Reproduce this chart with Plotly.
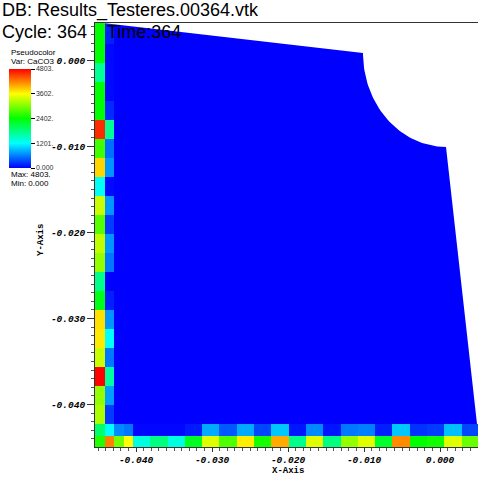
import numpy as np
import plotly.graph_objects as go

# ---------------- data ----------------
# colour scale (VisIt "hot")
cb_tick_vals = [0.0, 1201.0, 2402.0, 3602.0, 4803.0]
cb_tick_text = ["0.000", "1201.", "2402.", "3602.", "4803."]
z_min, z_max = 0.0, 4803.0

# CaCO3 in the left-most (narrow) column, rows top -> bottom (23 rows)
col1_vals = [2400, 2400, 1700, 2400, 2400, 4600, 2700, 3800, 1250, 3350, 2800,
             3300, 3100, 1750, 2300, 3750, 3700, 3350, 4800, 3100, 3200, 1900, 2550]
# second narrow column, rows top -> bottom
col2_vals = [150, 40, 40, 40, 200, 1700, 520, 700, 40, 700, 280,
             700, 560, 0, 140, 700, 1200, 560, 1650, 750, 280, 1200, 4200]
# second row from bottom, columns left -> right (24 columns)
row_b2_vals = [1900, 1200, 650, 560, 30, 30, 30, 120, 800, 420, 800, 330,
               940, 100, 650, 100, 560, 600, 140, 940, 230, 280, 900, 330]
# bottom row, columns left -> right
row_b1_vals = [2550, 4200, 2950, 3600, 1350, 1800, 1350, 2250, 3450, 2780, 3680, 2500,
               4000, 1750, 3450, 1800, 3100, 3450, 2200, 4150, 2400, 2480, 3450, 2900]

# grid geometry (data units)
x_start = -0.045395
narrow_w, normal_w = 0.00125, 0.002276
n_narrow_cols, n_normal_cols = 4, 20
y_start = -0.04494
narrow_h, normal_h = 0.001337, 0.00221
n_narrow_rows, n_normal_rows = 2, 21
y_top = 0.00436

# outline of the empty (white) region, data units
top_edge = [(-0.04434, 0.00436), (-0.01013, 0.00087)]
hole_center = (0.00079, 0.00087)
hole_radius = 0.01092
right_edge = [(0.00079, -0.01006), (0.00487, -0.04227)]

x_tick_vals = [-0.04, -0.03, -0.02, -0.01, 0.0]
x_tick_text = ["-0.040", "-0.030", "-0.020", "-0.010", "0.000"]
y_tick_vals = [-0.04, -0.03, -0.02, -0.01, 0.0]
y_tick_text = ["-0.040", "-0.030", "-0.020", "-0.010", "0.000"]
x_range = [-0.045395, 0.0050]
y_range = [-0.04494, 0.00436]

# ---------------- build grid ----------------
x_edges = [x_start]
for i in range(n_narrow_cols):
    x_edges.append(x_edges[-1] + narrow_w)
for i in range(n_normal_cols):
    x_edges.append(x_edges[-1] + normal_w)
y_edges = [y_start]
for i in range(n_narrow_rows):
    y_edges.append(y_edges[-1] + narrow_h)
for i in range(n_normal_rows):
    y_edges.append(y_edges[-1] + normal_h)
y_edges[-1] = y_top

nrows = n_narrow_rows + n_normal_rows
ncols = n_narrow_cols + n_normal_cols
z_top_down = np.zeros((nrows, ncols))
z_top_down[:, 0] = col1_vals
z_top_down[:, 1] = col2_vals
z_top_down[nrows - 2, :] = row_b2_vals
z_top_down[nrows - 1, :] = row_b1_vals
z = z_top_down[::-1]

hot = [[0.0, "#0000ff"], [0.25, "#00ffff"], [0.5, "#00ff00"], [0.75, "#ffff00"], [1.0, "#ff0000"]]

W, H = 478, 478
L, R, T, B = 95, 0, 23, 31
pw, ph = W - L - R, H - T - B


def pxx(p):
    return (p - L) / pw


def pxy(p):
    return (H - B - p) / ph


fig = go.Figure()
fig.add_trace(go.Heatmap(
    x=x_edges, y=y_edges, z=z, zmin=z_min, zmax=z_max, colorscale=hot,
    zsmooth=False, hoverinfo="skip",
    colorbar=dict(
        x=pxx(8.5), xanchor="left", xref="paper",
        y=pxy(118.5), yanchor="middle", yref="paper",
        thickness=22, thicknessmode="pixels", len=99, lenmode="pixels",
        outlinewidth=0, ticks="outside", ticklen=4, tickwidth=1, tickcolor="#000",
        tickmode="array", tickvals=cb_tick_vals, ticktext=cb_tick_text,
        tickfont=dict(family="Liberation Sans", size=7, color="#333"),
        xpad=0, ypad=0,
    ),
))

# white mask for the region outside the body
th = np.linspace(np.pi, 1.5 * np.pi, 60)
arc_x = hole_center[0] + hole_radius * np.cos(th)
arc_y = hole_center[1] + hole_radius * np.sin(th)
mask_x = [top_edge[0][0], top_edge[1][0]] + list(arc_x) + [right_edge[0][0], right_edge[1][0],
          x_range[1] + 0.001, x_range[1] + 0.001, top_edge[0][0]]
mask_y = [top_edge[0][1], top_edge[1][1]] + list(arc_y) + [right_edge[0][1], right_edge[1][1],
          right_edge[1][1], y_range[1] + 0.001, y_range[1] + 0.001]
fig.add_trace(go.Scatter(x=mask_x, y=mask_y, fill="toself", fillcolor="white",
                         mode="lines", line=dict(width=0, color="white"),
                         hoverinfo="skip", showlegend=False))

tickfont = dict(family="Liberation Mono", size=9.5, color="#000", weight="bold", style="italic")
fig.update_layout(
    width=W, height=H, margin=dict(l=L, r=R, t=T, b=B),
    paper_bgcolor="white", plot_bgcolor="white", showlegend=False,
    xaxis=dict(range=x_range, showgrid=False, zeroline=False, showline=True,
               linecolor="#333", linewidth=1, mirror=True,
               ticks="outside", ticklen=4, tickcolor="#333",
               tickmode="array", tickvals=x_tick_vals, ticktext=x_tick_text,
               tickfont=tickfont,
               minor=dict(ticks="outside", ticklen=3, tickcolor="#555", dtick=0.001, tick0=0)),
    yaxis=dict(range=y_range, showgrid=False, zeroline=False, showline=True,
               linecolor="#333", linewidth=1,
               ticks="outside", ticklen=7, tickcolor="#333",
               tickmode="array", tickvals=y_tick_vals, ticktext=y_tick_text,
               tickfont=tickfont,
               minor=dict(ticks="outside", ticklen=3, tickcolor="#555", dtick=0.001, tick0=0)),
)

sans = "Liberation Sans"
ann = [
    dict(text="DB: Results_Testeres.00364.vtk", x=pxx(0), y=pxy(10.5), size=18),
    dict(text="Cycle: 364", x=pxx(0), y=pxy(32), size=18),
    dict(text="Time:364", x=pxx(105), y=pxy(32), size=18),
    dict(text="Pseudocolor", x=pxx(9), y=pxy(52), size=8),
    dict(text="Var: CaCO3", x=pxx(9), y=pxy(61), size=8),
    dict(text="Max: 4803.", x=pxx(9), y=pxy(174), size=8),
    dict(text="Min: 0.000", x=pxx(9), y=pxy(183), size=8),
]
for a in ann:
    fig.add_annotation(text=a["text"], x=a["x"], y=a["y"], xref="paper", yref="paper",
                       xanchor="left", yanchor="middle", showarrow=False,
                       font=dict(family=sans, size=a["size"], color="#000"))
fig.add_annotation(text="X-Axis", x=pxx(288), y=pxy(471), xref="paper", yref="paper",
                   xanchor="center", yanchor="middle", showarrow=False,
                   font=dict(family="Liberation Mono", size=9, color="#000", weight="bold"))
fig.add_annotation(text="Y-Axis", x=pxx(41), y=pxy(240), xref="paper", yref="paper",
                   xanchor="center", yanchor="middle", showarrow=False, textangle=-90,
                   font=dict(family="Liberation Mono", size=9, color="#000", weight="bold"))

fig.write_html("out.html")
